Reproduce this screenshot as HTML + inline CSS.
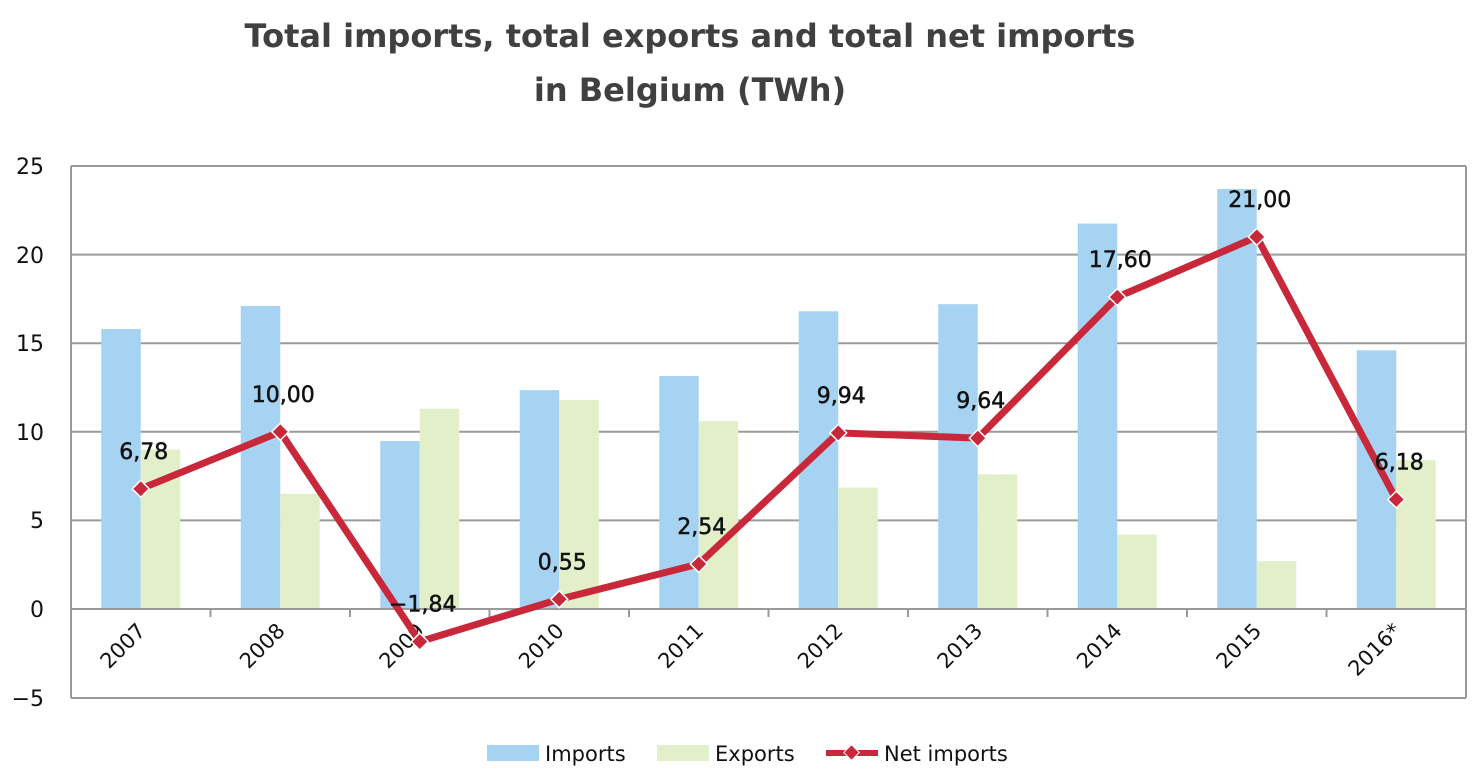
<!DOCTYPE html>
<html><head><style>body{margin:0;background:#fff}</style></head><body>
<svg width="1484" height="779" xmlns="http://www.w3.org/2000/svg" font-family="'DejaVu Sans','Liberation Sans',sans-serif">
<text x="690" y="47" font-size="32" font-weight="bold" text-anchor="middle" fill="#404040">Total imports, total exports and total net imports</text>
<text x="690" y="101" font-size="32" font-weight="bold" text-anchor="middle" fill="#404040">in Belgium (TWh)</text>
<g stroke="#9a9a9a" stroke-width="2">
<line x1="71" y1="166" x2="1466" y2="166"/>
<line x1="71" y1="254.6" x2="1466" y2="254.6"/>
<line x1="71" y1="343.2" x2="1466" y2="343.2"/>
<line x1="71" y1="431.8" x2="1466" y2="431.8"/>
<line x1="71" y1="520.4" x2="1466" y2="520.4"/>
<line x1="71" y1="698" x2="1466" y2="698"/>
<line x1="71" y1="166" x2="71" y2="698"/>
<line x1="1466" y1="166" x2="1466" y2="698"/>
</g>
<g font-size="22" fill="#111" text-anchor="end">
<text x="44" y="174">25</text><text x="44" y="263">20</text><text x="44" y="351">15</text>
<text x="44" y="440">10</text><text x="44" y="528">5</text><text x="44" y="617">0</text><text x="44" y="706">−5</text>
</g>
<g id="bars"></g>
<line x1="71" y1="609" x2="1466" y2="609" stroke="#9a9a9a" stroke-width="2"/>
<g id="ticks" stroke="#9a9a9a" stroke-width="2"></g>
<g id="xl" font-size="21" fill="#111" text-anchor="end"></g>
<polyline id="net" fill="none" stroke="#c8283a" stroke-width="7" stroke-linejoin="round"/>
<g id="mk"></g>
<g id="lb" font-size="22" fill="#111" text-anchor="middle" stroke="#111" stroke-width="0.5"></g>
<rect x="487" y="745" width="52" height="16" fill="#a6d3f2"/>
<text x="545" y="761" font-size="21" fill="#111">Imports</text>
<rect x="657" y="745" width="52" height="16" fill="#e2efc9"/>
<text x="715" y="761" font-size="21" fill="#111">Exports</text>
<line x1="826" y1="753" x2="878" y2="753" stroke="#c8283a" stroke-width="6"/>
<rect x="846" y="747" width="11" height="11" fill="#c8283a" stroke="#fff" transform="rotate(45 851.5 752.5)"/>
<text x="884" y="761" font-size="21" fill="#111">Net imports</text>
</svg>
<script>
const imp=[15.8,17.1,9.48,12.35,13.15,16.8,17.2,21.75,23.7,14.6];
const exp=[9.0,6.5,11.3,11.8,10.6,6.85,7.6,4.2,2.7,8.4];
const net=[6.78,10.00,-1.84,0.55,2.54,9.94,9.64,17.60,21.00,6.18];
const yrs=['2007','2008','2009','2010','2011','2012','2013','2014','2015','2016*'];
const y=v=>609-v*17.72, ns='http://www.w3.org/2000/svg';
const mk=(t,a,p)=>{const e=document.createElementNS(ns,t);for(const k in a)e.setAttribute(k,a[k]);if(p)document.getElementById(p).appendChild(e);return e;};
let pts=[];
for(let i=0;i<10;i++){
 const c=71+139.5*i+69.75;
 mk('rect',{x:c-39.5,y:y(imp[i]),width:39.5,height:imp[i]*17.72,fill:'#a6d3f2'},'bars');
 mk('rect',{x:c,y:y(exp[i]),width:39.5,height:exp[i]*17.72,fill:'#e2efc9'},'bars');
 if(i>0) mk('line',{x1:71+139.5*i,y1:609,x2:71+139.5*i,y2:617},'ticks');
 const t=mk('text',{x:c+6,y:632,transform:`rotate(-45 ${c+6} 632)`},'xl');t.textContent=yrs[i];
 pts.push(c+','+y(net[i]));
 mk('rect',{x:c-6,y:y(net[i])-6,width:12,height:12,fill:'#c8283a',stroke:'#fff','stroke-width':1.5,transform:`rotate(45 ${c} ${y(net[i])})`},'mk');
 const l=mk('text',{x:c+3,y:y(net[i])-30},'lb');l.textContent=net[i].toFixed(2).replace('.',',').replace('-','−');
}
document.getElementById('net').setAttribute('points',pts.join(' '));
</script>
</body></html>
